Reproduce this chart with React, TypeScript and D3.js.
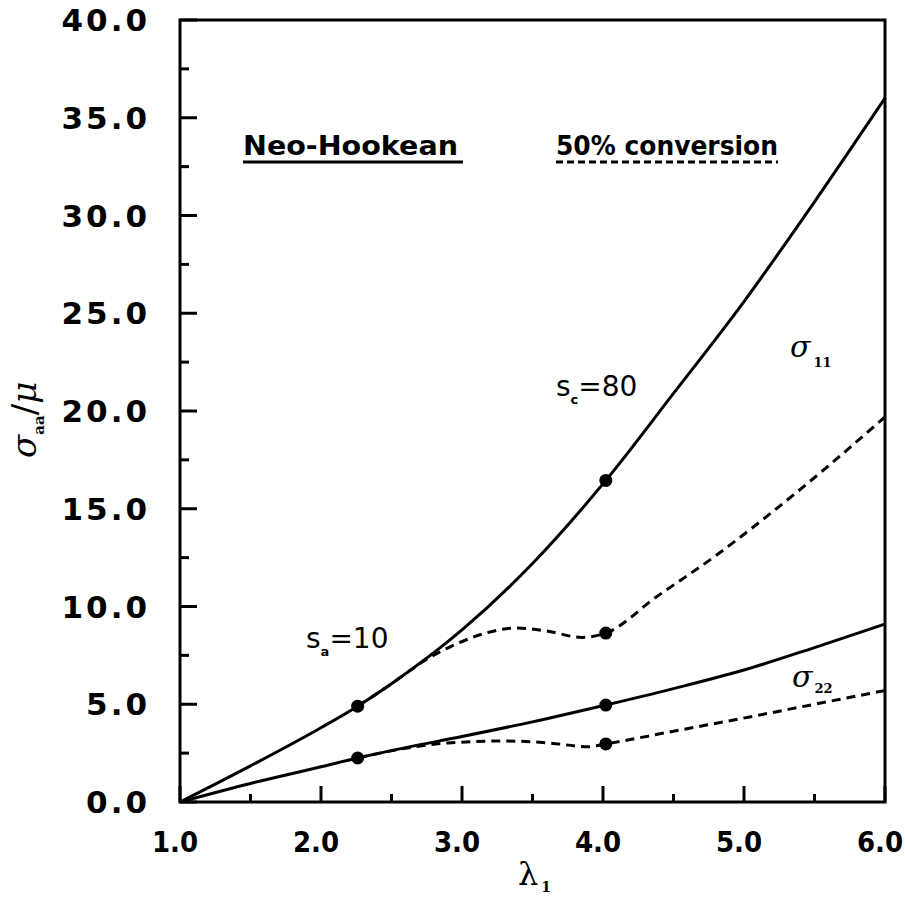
import React from "react";
import * as d3 from "d3";

// stretch ratio lambda_1 and reduced stress sigma/mu
const s11Neo: [number, number][] = [
  [1.0, 0], [1.5, 1.85], [2.0, 3.8], [2.26, 4.9], [2.5, 6.05], [3.0, 8.8],
  [3.5, 12.2], [4.02, 16.45], [4.5, 20.9], [5.0, 25.6], [5.5, 30.7], [6.0, 36.0],
];
const s11Conv: [number, number][] = [
  [2.26, 4.9], [2.5, 6.05], [2.75, 7.3], [2.95, 8.05], [3.15, 8.6], [3.38, 8.9],
  [3.6, 8.75], [3.85, 8.42], [4.02, 8.64], [4.38, 10.5], [4.8, 12.6],
  [5.16, 14.6], [5.6, 17.2], [6.0, 19.7],
];
const s22Neo: [number, number][] = [
  [1.0, 0], [1.5, 0.95], [2.0, 1.8], [2.26, 2.25], [2.6, 2.78], [3.0, 3.35],
  [3.5, 4.1], [4.02, 4.96], [4.5, 5.8], [5.0, 6.75], [5.5, 7.9], [6.0, 9.1],
];
const s22Conv: [number, number][] = [
  [2.26, 2.25], [2.6, 2.75], [2.9, 3.02], [3.3, 3.12], [3.6, 3.03],
  [3.9, 2.83], [4.02, 2.97], [4.5, 3.62], [5.04, 4.35], [5.5, 5.0], [6.0, 5.7],
];
const markers: [number, number][] = [
  [2.26, 4.9], [2.26, 2.25], [4.02, 16.45], [4.02, 8.64], [4.02, 4.96], [4.02, 2.97],
];
const xTicks = [1, 2, 3, 4, 5, 6];
const xMinor = [1.5, 2.5, 3.5, 4.5, 5.5];
const yTicks = [0, 5, 10, 15, 20, 25, 30, 35, 40];
const yMinor = [2.5, 7.5, 12.5, 17.5, 22.5, 27.5, 32.5, 37.5];

const W = 905;
const H = 899;
const M = { left: 180, right: 885, top: 20, bottom: 802 };

const sans = "'DejaVu Sans', sans-serif";
const serif = "'DejaVu Serif', 'Liberation Serif', serif";

export default function App() {
  const x = d3.scaleLinear().domain([1, 6]).range([M.left, M.right]);
  const y = d3.scaleLinear().domain([0, 40]).range([M.bottom, M.top]);
  const line = d3
    .line<[number, number]>()
    .x((d) => x(d[0]))
    .y((d) => y(d[1]))
    .curve(d3.curveMonotoneX);

  const dash = "9,6";

  return (
    <svg
      width={W}
      height={H}
      style={{ position: "absolute", left: 0, top: 0, background: "#fff" }}
    >
      {/* curves */}
      <g fill="none" stroke="#000" strokeWidth={3}>
        <path d={line(s11Neo) || ""} />
        <path d={line(s22Neo) || ""} />
        <path d={line(s11Conv) || ""} strokeDasharray={dash} />
        <path d={line(s22Conv) || ""} strokeDasharray={dash} />
      </g>
      {markers.map((d, i) => (
        <circle key={i} cx={x(d[0])} cy={y(d[1])} r={6.5} fill="#000" />
      ))}

      {/* frame */}
      <rect
        x={M.left}
        y={M.top}
        width={M.right - M.left}
        height={M.bottom - M.top}
        fill="none"
        stroke="#000"
        strokeWidth={3}
      />

      {/* ticks, drawn inward */}
      <g stroke="#000" strokeWidth={3}>
        {yTicks.map((t) => (
          <line key={"y" + t} x1={M.left} x2={M.left + 17} y1={y(t)} y2={y(t)} />
        ))}
        {yMinor.map((t) => (
          <line key={"ym" + t} x1={M.left} x2={M.left + 9} y1={y(t)} y2={y(t)} />
        ))}
        {xTicks.map((t) => (
          <line key={"x" + t} x1={x(t)} x2={x(t)} y1={M.bottom} y2={M.bottom - 16} />
        ))}
        {xMinor.map((t) => (
          <line key={"xm" + t} x1={x(t)} x2={x(t)} y1={M.bottom} y2={M.bottom - 8} />
        ))}
      </g>

      {/* y tick labels */}
      <g fontFamily={sans} fontWeight="bold" fontSize={31} textAnchor="end" letterSpacing={3}>
        {yTicks.map((t) => (
          <text key={t} x={150} y={y(t)} dy="0.36em">
            {t.toFixed(1)}
          </text>
        ))}
      </g>

      {/* x tick labels */}
      <g fontFamily="'DejaVu Sans Condensed', 'DejaVu Sans', sans-serif" fontWeight="bold" fontSize={29} textAnchor="middle">
        {xTicks.map((t) => (
          <text key={t} x={x(t) - 5} y={852}>
            {t.toFixed(1)}
          </text>
        ))}
      </g>

      {/* axis titles */}
      <text x={518} y={885} fontFamily={serif} fontSize={32}>
        λ
        <tspan fontSize={14} fontWeight="bold" dx={3} dy={7}>1</tspan>
      </text>
      <text transform="translate(36,458) rotate(-90)" fontSize={34}>
        <tspan fontFamily={serif} fontStyle="italic">σ</tspan>
        <tspan fontFamily={serif} fontWeight="bold" fontSize={15} dy={8}>aa</tspan>
        <tspan fontFamily={sans} dy={-8}>/</tspan>
        <tspan fontFamily={serif} fontStyle="italic">μ</tspan>
      </text>

      {/* legend */}
      <text x={243} y={155} fontFamily={sans} fontWeight="bold" fontSize={27} textLength={215} lengthAdjust="spacingAndGlyphs">
        Neo-Hookean
      </text>
      <line x1={243} x2={463} y1={162} y2={162} stroke="#000" strokeWidth={3} />
      <text x={556} y={155} fontFamily={sans} fontWeight="bold" fontSize={27} textLength={222} lengthAdjust="spacingAndGlyphs">
        50% conversion
      </text>
      <line x1={556} x2={778} y1={162} y2={162} stroke="#000" strokeWidth={3} strokeDasharray="7,4" />

      {/* annotations */}
      <text x={306} y={648} fontFamily={sans} fontSize={28}>
        s<tspan fontSize={13} fontWeight="bold" dy={8}>a</tspan>
        <tspan dy={-8}>=10</tspan>
      </text>
      <text x={556} y={396} fontFamily={sans} fontSize={28}>
        s<tspan fontSize={13} fontWeight="bold" dy={8}>c</tspan>
        <tspan dy={-8}>=80</tspan>
      </text>
      <text x={790} y={357} fontFamily={serif} fontStyle="italic" fontSize={30}>
        σ<tspan fontStyle="normal" fontWeight="bold" fontSize={13} dx={3} dy={10}>11</tspan>
      </text>
      <text x={792} y={687} fontFamily={serif} fontStyle="italic" fontSize={30}>
        σ<tspan fontStyle="normal" fontWeight="bold" fontSize={13} dx={2} dy={6}>22</tspan>
      </text>
    </svg>
  );
}
